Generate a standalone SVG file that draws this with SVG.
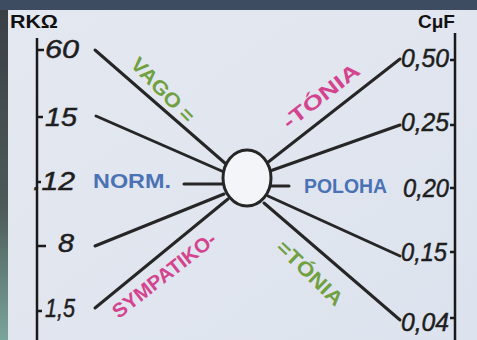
<svg xmlns="http://www.w3.org/2000/svg" width="477" height="340" viewBox="0 0 477 340">
<defs>
<linearGradient id="bg" x1="0" y1="0" x2="1" y2="1">
<stop offset="0" stop-color="#e4e8f0"/>
<stop offset="1" stop-color="#dde3ee"/>
</linearGradient>
<linearGradient id="edge" x1="0" y1="0" x2="0" y2="1">
<stop offset="0" stop-color="#3a3f46"/>
<stop offset="0.6" stop-color="#4d5a58"/>
<stop offset="1" stop-color="#7aa59a"/>
</linearGradient>
<style>
.ax{stroke:#1a1a1a;stroke-width:2.5;fill:none}
.ln{stroke:#262626;stroke-width:3;stroke-linecap:round;fill:none}
.num{font-family:"Liberation Sans",Arial,sans-serif;font-style:italic;font-size:26px;fill:#1e1e1e;stroke:#1e1e1e;stroke-width:0.5}
.hd{font-family:"Liberation Sans",Arial,sans-serif;font-weight:bold;font-size:18px;fill:#111}
.lb{font-family:"Liberation Sans",Arial,sans-serif;font-weight:bold;font-size:20px}
.c{text-anchor:middle}
.g{fill:#70a040}
.p{fill:#d4448e}
.b{fill:#4a72b4}
</style>
</defs>
<rect width="477" height="340" fill="url(#bg)"/>
<rect width="477" height="10" fill="#3e4c62"/>
<rect x="0" y="10" width="8" height="330" fill="url(#edge)"/>

<g id="axes">
<path class="ax" d="M37 38 V340 M37 50 H44 M37 117 H43 M37 182 H41 M37 246 H46 M37 311 H42"/>
<path class="ax" d="M455 33 V340 M455 60 H450 M455 125 H450 M455 188 H450 M455 252 H450 M455 318 H450"/>
</g>

<g id="headers">
<text class="hd" x="10" y="28" textLength="48" lengthAdjust="spacingAndGlyphs">RKΩ</text>
<text class="hd" x="418" y="28" textLength="37" lengthAdjust="spacingAndGlyphs">CμF</text>
</g>

<g id="left-scale">
<text class="num" x="45" y="58" textLength="34" lengthAdjust="spacingAndGlyphs">60</text>
<text class="num" x="45" y="126" textLength="32" lengthAdjust="spacingAndGlyphs">15</text>
<text class="num" x="33" y="190" textLength="42" lengthAdjust="spacingAndGlyphs">.12</text>
<text class="num" x="58" y="252" textLength="16" lengthAdjust="spacingAndGlyphs">8</text>
<text class="num" x="45" y="317" textLength="30" lengthAdjust="spacingAndGlyphs">1,5</text>
</g>

<g id="right-scale">
<text class="num" x="401" y="67" textLength="48" lengthAdjust="spacingAndGlyphs">0,50</text>
<text class="num" x="401" y="131" textLength="48" lengthAdjust="spacingAndGlyphs">0,25</text>
<text class="num" x="403" y="197" textLength="46" lengthAdjust="spacingAndGlyphs">0,20</text>
<text class="num" x="401" y="261" textLength="46" lengthAdjust="spacingAndGlyphs">0,15</text>
<text class="num" x="401" y="331" textLength="48" lengthAdjust="spacingAndGlyphs">0,04</text>
</g>

<g id="connectors">
<path class="ln" d="M95 50 L226 164"/>
<path class="ln" d="M96 116 L224 172"/>
<path class="ln" d="M184 184 H222"/>
<path class="ln" d="M95 246 L224 194"/>
<path class="ln" d="M95 308 L228 199"/>
<path class="ln" d="M400 59 L267 163"/>
<path class="ln" d="M400 125 L270 171"/>
<path class="ln" d="M271 186 H289"/>
<path class="ln" d="M400 256 L268 196"/>
<path class="ln" d="M400 320 L264 203"/>
</g>

<g id="center">
<ellipse cx="247" cy="178" rx="24" ry="28" fill="#f3f5f9" stroke="#262626" stroke-width="3"/>
</g>

<g id="labels">
<text class="lb g c" transform="translate(163,90) rotate(46)" y="7" textLength="82" lengthAdjust="spacingAndGlyphs">VAGO =</text>
<text class="lb p c" transform="translate(321,96) rotate(-38)" y="7" textLength="92" lengthAdjust="spacingAndGlyphs">-TÓNIA</text>
<text class="lb b" x="93" y="188" textLength="78" lengthAdjust="spacingAndGlyphs">NORM.</text>
<text class="lb b" x="304" y="193" textLength="83" lengthAdjust="spacingAndGlyphs">POLOHA</text>
<text class="lb p c" transform="translate(164,275) rotate(-38)" y="7" textLength="126" lengthAdjust="spacingAndGlyphs">SYMPATIKO-</text>
<text class="lb g c" transform="translate(310,273) rotate(44)" y="7" textLength="84" lengthAdjust="spacingAndGlyphs">=TÓNIA</text>
</g>
</svg>
